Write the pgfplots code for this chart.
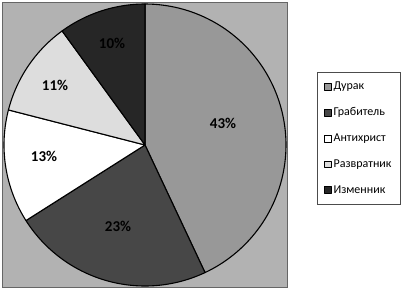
\documentclass[border=0pt]{standalone}
\usepackage{pgfplots}
\pgfplotsset{compat=1.18}
\usepackage{fontspec}
\setmainfont{Carlito}
\definecolor{bg}{HTML}{B2B2B2}
\definecolor{c1}{HTML}{989898}
\definecolor{c2}{HTML}{474747}
\definecolor{c3}{HTML}{FFFFFF}
\definecolor{c4}{HTML}{DDDDDD}
\definecolor{c5}{HTML}{262626}
\newcommand{\slice}[3]{%
  \pgfmathsetmacro\angA{90-3.6*(#1)}%
  \pgfmathsetmacro\angB{90-3.6*(#1+#2)}%
  \addplot[draw=black, line width=1.1pt, fill=#3, domain=\angB:\angA, samples=90, line join=round]
    ({145+141*cos(x)},{148+141*sin(x)}) -- (axis cs:145,148) -- cycle;
}
\begin{document}
\begin{tikzpicture}
\path[use as bounding box] (0,0) rectangle (420pt,293pt);
\begin{axis}[
  anchor=origin, at={(0,0)},
  x=1pt, y=1pt, xmin=0, xmax=420, ymin=0, ymax=293,
  scale only axis, hide axis, clip=false,
  legend cell align=left,
  legend style={at={(axis cs:317,221)}, anchor=north west, draw=gray!60!black, line width=0.6pt, fill=white,
    font=\fontsize{12}{14}\selectfont, row sep=12.6pt, inner xsep=7pt, inner ysep=7.5pt},
  legend image code/.code={\draw[#1, line width=0.5pt] (0pt,-3.4pt) rectangle (6.8pt,3.4pt);},
]
\draw[fill=bg, draw=gray!80!black, line width=0.8pt] (axis cs:2,6) rectangle (axis cs:287,291);
\slice{0}{43}{c1}
\addlegendentry{Дурак}
\slice{43}{23}{c2}
\addlegendentry{Грабитель}
\slice{66}{13}{c3}
\addlegendentry{Антихрист}
\slice{79}{11}{c4}
\addlegendentry{Развратник}
\slice{90}{10}{c5}
\addlegendentry{Изменник}
\begin{scope}[font=\fontsize{15}{17}\selectfont\bfseries]
\node at (axis cs:223,170) {43\%};
\node at (axis cs:118,67) {23\%};
\node at (axis cs:44,137) {13\%};
\node at (axis cs:55,208) {11\%};
\node at (axis cs:112,250) {10\%};
\end{scope}
\end{axis}
\end{tikzpicture}
\end{document}
